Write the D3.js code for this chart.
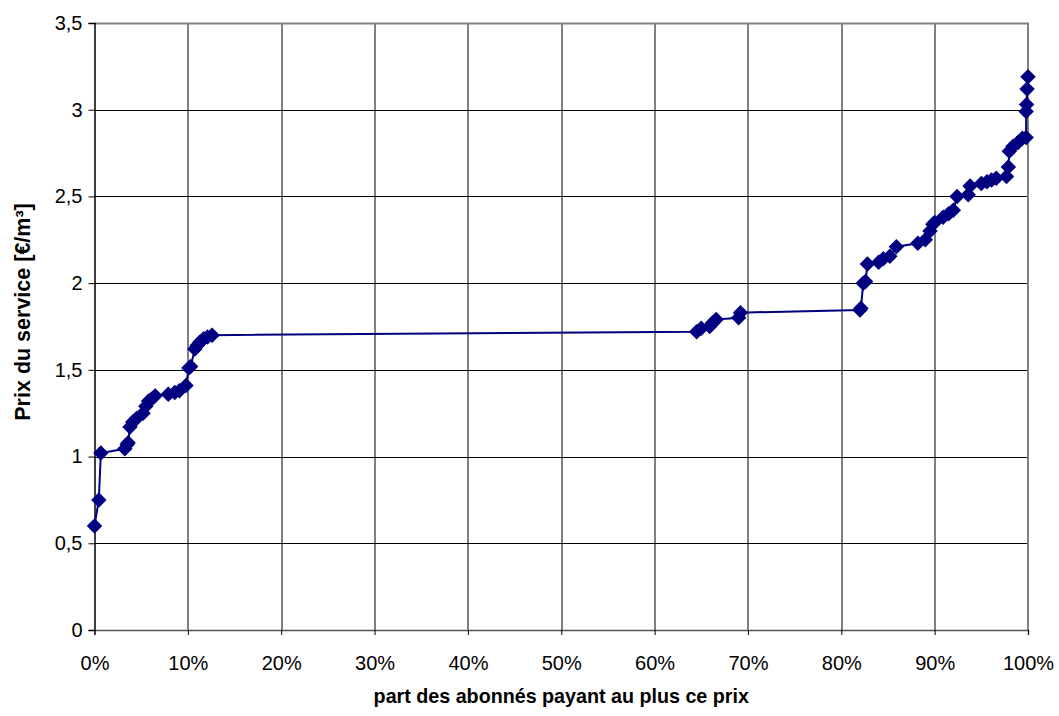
<!DOCTYPE html>
<html>
<head>
<meta charset="utf-8">
<script src="https://cdn.jsdelivr.net/npm/d3@7"></script>
<style>
  body { margin: 0; background: #fff; }
  text { font-family: "Liberation Sans", Arial, sans-serif; fill: #000; }
</style>
</head>
<body>
<div class="canvas"></div>
<script>
// share of subscribers (%) paying at most this price
const share = [0.0, 0.46, 0.68, 3.25, 3.5, 3.6, 3.8, 4.1, 4.5, 5.2, 5.5, 5.8, 6.1, 6.5, 7.9, 8.6, 9.1, 9.8,
  10.1, 10.3, 10.75, 11.0, 11.3, 11.7, 12.1, 12.6, 64.5, 65.0, 65.9, 66.2, 66.6, 69.0, 69.2,
  82.0, 82.1, 82.35, 82.6, 82.8, 84.0, 84.5, 85.2, 85.9, 88.2, 89.0, 89.5, 89.8, 90.0, 90.9, 91.5,
  92.0, 92.4, 93.6, 93.8, 95.0, 95.6, 96.1, 96.6, 97.7, 97.9, 98.0, 98.4, 98.9, 99.4, 99.8, 99.8,
  99.85, 99.9, 100];
// price of the service (EUR/m3)
const price = [0.60, 0.75, 1.02, 1.045, 1.07, 1.08, 1.17, 1.20, 1.22, 1.25, 1.29, 1.32, 1.33, 1.35, 1.36, 1.37, 1.38, 1.41,
  1.51, 1.52, 1.62, 1.64, 1.66, 1.68, 1.69, 1.70, 1.72, 1.74, 1.75, 1.77, 1.79, 1.80, 1.83,
  1.845, 1.855, 2.00, 2.01, 2.11, 2.12, 2.14, 2.155, 2.21, 2.23, 2.25, 2.30, 2.34, 2.35, 2.38, 2.40,
  2.42, 2.50, 2.51, 2.56, 2.575, 2.585, 2.595, 2.605, 2.615, 2.67, 2.76, 2.79, 2.81, 2.835, 2.84, 2.99,
  3.03, 3.12, 3.19];

const xTicks = [0, 10, 20, 30, 40, 50, 60, 70, 80, 90, 100];
const yTicks = [0, 0.5, 1, 1.5, 2, 2.5, 3, 3.5];

const width = 1059, height = 716;
const margin = { top: 23, right: 31, bottom: 86, left: 94.5 };
const innerW = width - margin.left - margin.right;
const innerH = height - margin.top - margin.bottom;

const svg = d3.select('.canvas')
  .append('svg')
  .attr('width', width)
  .attr('height', height);

const graph = svg.append('g')
  .attr('transform', `translate(${margin.left}, ${margin.top})`);

const x = d3.scaleLinear().domain([0, 100]).range([0, innerW]);
const y = d3.scaleLinear().domain([0, 3.5]).range([innerH, 0]);

// gridlines
graph.append('g')
  .selectAll('line')
  .data(yTicks.slice(1, -1))
  .join('line')
  .attr('x1', 0).attr('x2', innerW)
  .attr('y1', d => Math.round(y(d)) + 0.5).attr('y2', d => Math.round(y(d)) + 0.5)
  .attr('stroke', '#000').attr('stroke-width', 1);

graph.append('g')
  .selectAll('line')
  .data(xTicks.slice(1, -1))
  .join('line')
  .attr('x1', d => Math.round(x(d)) + 0.5).attr('x2', d => Math.round(x(d)) + 0.5)
  .attr('y1', 0).attr('y2', innerH)
  .attr('stroke', '#000').attr('stroke-width', 1);

// plot area border (top / right grey)
graph.append('path')
  .attr('d', `M0,0.5H${innerW}V${innerH}`)
  .attr('fill', 'none')
  .attr('stroke', '#808080')
  .attr('stroke-width', 2);

// axes
const xAxis = d3.axisBottom(x)
  .tickValues(xTicks)
  .tickFormat(d => d + '%')
  .tickSize(5)
  .tickPadding(21);

const yAxis = d3.axisLeft(y)
  .tickValues(yTicks)
  .tickFormat(d => String(d).replace('.', ','))
  .tickSize(6)
  .tickPadding(6);

const gx = graph.append('g')
  .attr('transform', `translate(0, ${innerH})`)
  .call(xAxis);
const gy = graph.append('g').call(yAxis);

[gx, gy].forEach(g => {
  g.select('.domain').attr('stroke', '#000').attr('stroke-width', 1.5);
  g.selectAll('.tick line').attr('stroke', '#000');
  g.selectAll('.tick text')
    .style('font-family', '"Liberation Sans", Arial, sans-serif')
    .style('font-size', '20px');
});
gx.select('.domain').attr('stroke', '#555');

// series
const points = share.map((s, i) => ({ s, p: price[i] }));

const line = d3.line()
  .x(d => x(d.s))
  .y(d => y(d.p));

graph.append('path')
  .datum(points)
  .attr('d', line)
  .attr('fill', 'none')
  .attr('stroke', '#000080')
  .attr('stroke-width', 2);

const diamond = d3.symbol().type(d3.symbolSquare).size(120);

graph.append('g')
  .selectAll('path')
  .data(points)
  .join('path')
  .attr('d', diamond)
  .attr('transform', d => `translate(${x(d.s)}, ${y(d.p)}) rotate(45)`)
  .attr('fill', '#000080');

// axis titles
svg.append('text')
  .attr('x', margin.left + innerW / 2)
  .attr('y', 703)
  .attr('text-anchor', 'middle')
  .style('font-size', '19.7px')
  .style('font-weight', 'bold')
  .text('part des abonnés payant au plus ce prix');

svg.append('text')
  .attr('transform', 'translate(30, 312) rotate(-90)')
  .attr('text-anchor', 'middle')
  .style('font-size', '21.5px')
  .style('font-weight', 'bold')
  .text('Prix du service [€/m³]');
</script>
</body>
</html>
